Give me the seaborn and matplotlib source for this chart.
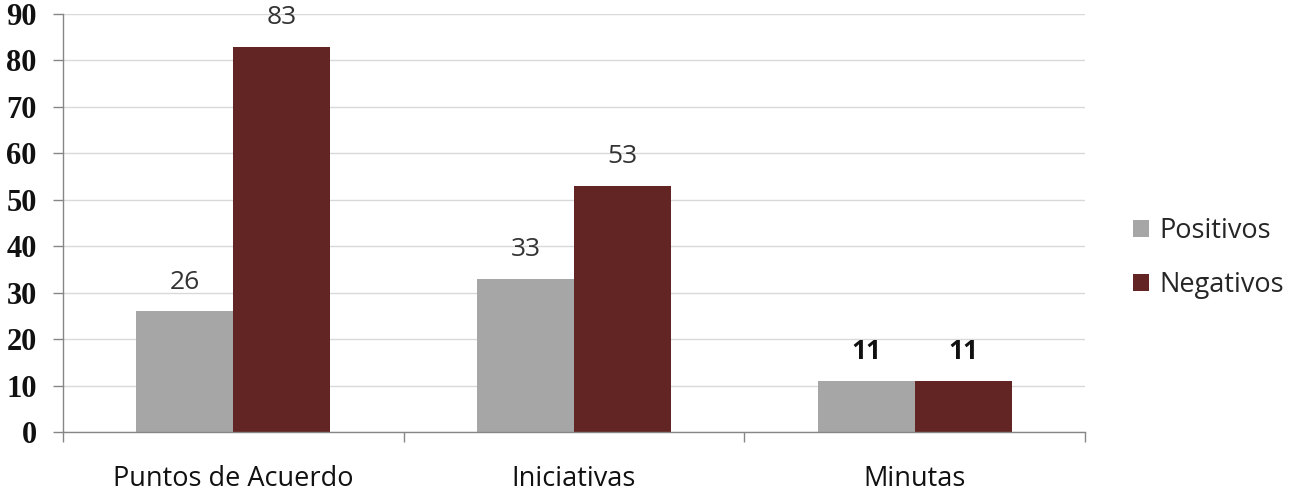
import matplotlib
matplotlib.use("Agg")
import matplotlib.pyplot as plt
import seaborn as sns
import pandas as pd

categories = ["Puntos de Acuerdo", "Iniciativas", "Minutas"]
series = ["Positivos", "Negativos"]
positivos = [26, 33, 11]
negativos = [83, 53, 11]
colors = ["#A6A6A6", "#632523"]

rows = []
for c, p, n in zip(categories, positivos, negativos):
    rows.append({"cat": c, "serie": "Positivos", "val": p})
    rows.append({"cat": c, "serie": "Negativos", "val": n})
df = pd.DataFrame(rows)

sns.set_theme(style="white")
plt.rcParams['font.family'] = ['Open Sans', 'DejaVu Sans']

fig = plt.figure(figsize=(12.98, 4.96), dpi=100)
ax = fig.add_axes([63/1298, 1-432/496, (1085-63)/1298, (432-14)/496])

sns.barplot(data=df, x="cat", y="val", hue="serie", palette=colors,
            width=0.57, saturation=1, ax=ax, edgecolor="none", linewidth=0)

ax.set_ylim(0, 90)
ax.set_xlim(-0.5, 2.5)
ax.set_yticks(range(0, 91, 10))
ax.yaxis.grid(True, color="#D9D9D9", linewidth=1)
ax.set_axisbelow(True)
for s in ["top", "right"]:
    ax.spines[s].set_visible(False)
for s in ["left", "bottom"]:
    ax.spines[s].set_color("#868686")
    ax.spines[s].set_linewidth(1)

ax.set_xticks([-0.5, 0.5, 1.5, 2.5])
ax.set_xticklabels([])
ax.set_xticks([0, 1, 2], minor=True)
ax.set_xticklabels(categories, minor=True, fontsize=19.5, color="#111111")
ax.tick_params(axis="x", which="major", length=7, color="#868686", width=1, direction="out", bottom=True)
ax.tick_params(axis="x", which="minor", length=0, pad=24)
ax.tick_params(axis="y", length=7, color="#868686", width=1, direction="out", left=True, pad=12)
for lbl in ax.get_yticklabels():
    lbl.set_fontfamily(["Liberation Serif", "DejaVu Serif"])
    lbl.set_fontweight("bold")
    lbl.set_fontsize(22)
    lbl.set_color("#111111")
ax.set_xlabel("")
ax.set_ylabel("")

for cont in ax.containers:
    for i, bar in enumerate(cont):
        h = bar.get_height()
        bold = (categories[i] == "Minutas")
        ax.annotate(f"{int(h)}", (bar.get_x() + bar.get_width()/2, h),
                    xytext=(0, 21), textcoords="offset points", ha="center", va="center",
                    fontsize=19, fontweight="bold" if bold else "normal",
                    color="#111111" if bold else "#333333")

leg = ax.legend(loc="center left", bbox_to_anchor=(1.047, 0.417), frameon=False,
                fontsize=19.5, handlelength=0.6, handleheight=0.6, labelspacing=0.96,
                handletextpad=0.36, borderaxespad=0, borderpad=0)

fig.savefig("out.png", dpi=100)
